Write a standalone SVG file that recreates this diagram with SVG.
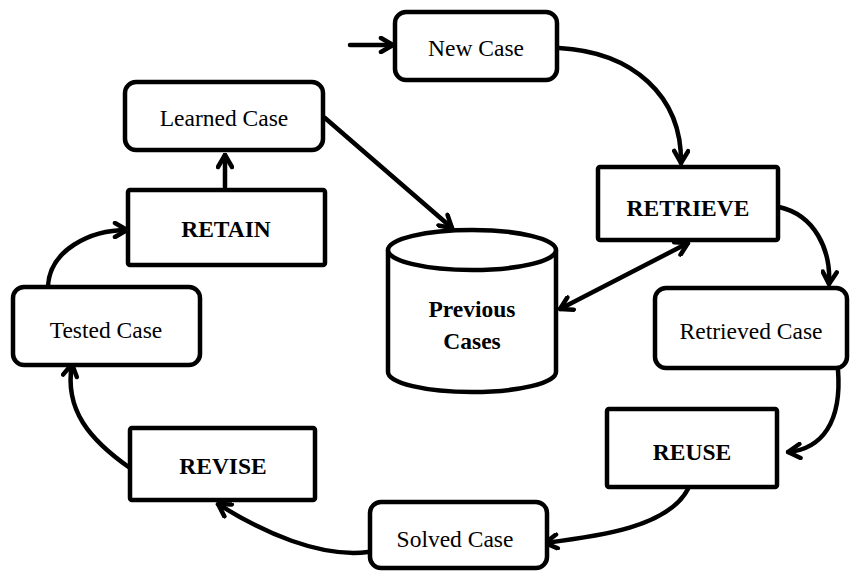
<svg xmlns="http://www.w3.org/2000/svg" width="850" height="572" viewBox="0 0 850 572">
<defs>
<marker id="ah" viewBox="0 0 18 18" markerWidth="18" markerHeight="18" refX="16" refY="9" orient="auto-start-reverse" markerUnits="userSpaceOnUse">
<path d="M4,2 L16,9 L4,16" fill="none" stroke="#000" stroke-width="4.5" stroke-linecap="round" stroke-linejoin="round"/>
</marker>
</defs>
<style>
.rb{fill:#fff;stroke:#000;stroke-width:4.5}
.sq{fill:#fff;stroke:#000;stroke-width:4.5}
.t{font-family:"Liberation Serif","Times New Roman",serif;font-size:23.5px;fill:#000;text-anchor:middle}
.b{font-weight:bold}
.c{fill:none;stroke:#000;stroke-width:4.5;stroke-linecap:round;marker-end:url(#ah)}
</style>
<g id="connectors">
<path class="c" d="M350,45 L393,45"/>
<path class="c" d="M559,48 C632,52 682,95 681,163"/>
<path class="c" d="M779,207 C815,215 831,250 829,284"/>
<path class="c" d="M838,370 C842,422 822,449 788,452"/>
<path class="c" d="M688,489 C668,527 600,536 545,543"/>
<path class="c" d="M368,552 C320,558 262,532 218,504"/>
<path class="c" d="M130,468 C90,440 64,410 72,364"/>
<path class="c" d="M48,286 C50,250 90,230 127,230"/>
<path class="c" d="M225,187 L225,155"/>
<path class="c" d="M325,118 L452,228"/>
<path class="c" d="M560,309 L688,243" style="marker-start:url(#ah)"/>
</g>
<g id="new-case">
<rect class="rb" x="395" y="12" width="162" height="68" rx="11"/>
<text class="t" x="476" y="56">New Case</text>
</g>
<g id="learned-case">
<rect class="rb" x="125" y="82" width="198" height="68" rx="11"/>
<text class="t" x="224" y="126">Learned Case</text>
</g>
<g id="retain">
<rect class="sq" x="128" y="190" width="197" height="75" rx="2"/>
<text class="t b" x="226" y="237">RETAIN</text>
</g>
<g id="previous-cases">
<path class="sq" d="M388,250 L388,372 A84,20 0 0 0 556,372 L556,250"/>
<ellipse class="sq" cx="472" cy="250" rx="84" ry="20"/>
<text class="t b" x="472" y="317">Previous</text>
<text class="t b" x="472" y="349">Cases</text>
</g>
<g id="retrieve">
<rect class="sq" x="598" y="167" width="180" height="73" rx="2"/>
<text class="t b" x="688" y="216">RETRIEVE</text>
</g>
<g id="retrieved-case">
<rect class="rb" x="655" y="288" width="192" height="80" rx="11"/>
<text class="t" x="751" y="339">Retrieved Case</text>
</g>
<g id="reuse">
<rect class="sq" x="607" y="409" width="170" height="78" rx="2"/>
<text class="t b" x="692" y="460">REUSE</text>
</g>
<g id="solved-case">
<rect class="rb" x="370" y="502" width="177" height="66" rx="11"/>
<text class="t" x="455" y="547">Solved Case</text>
</g>
<g id="revise">
<rect class="sq" x="130" y="428" width="185" height="72" rx="2"/>
<text class="t b" x="223" y="474">REVISE</text>
</g>
<g id="tested-case">
<rect class="rb" x="13" y="287" width="187" height="78" rx="11"/>
<text class="t" x="106" y="338">Tested Case</text>
</g>
</svg>
